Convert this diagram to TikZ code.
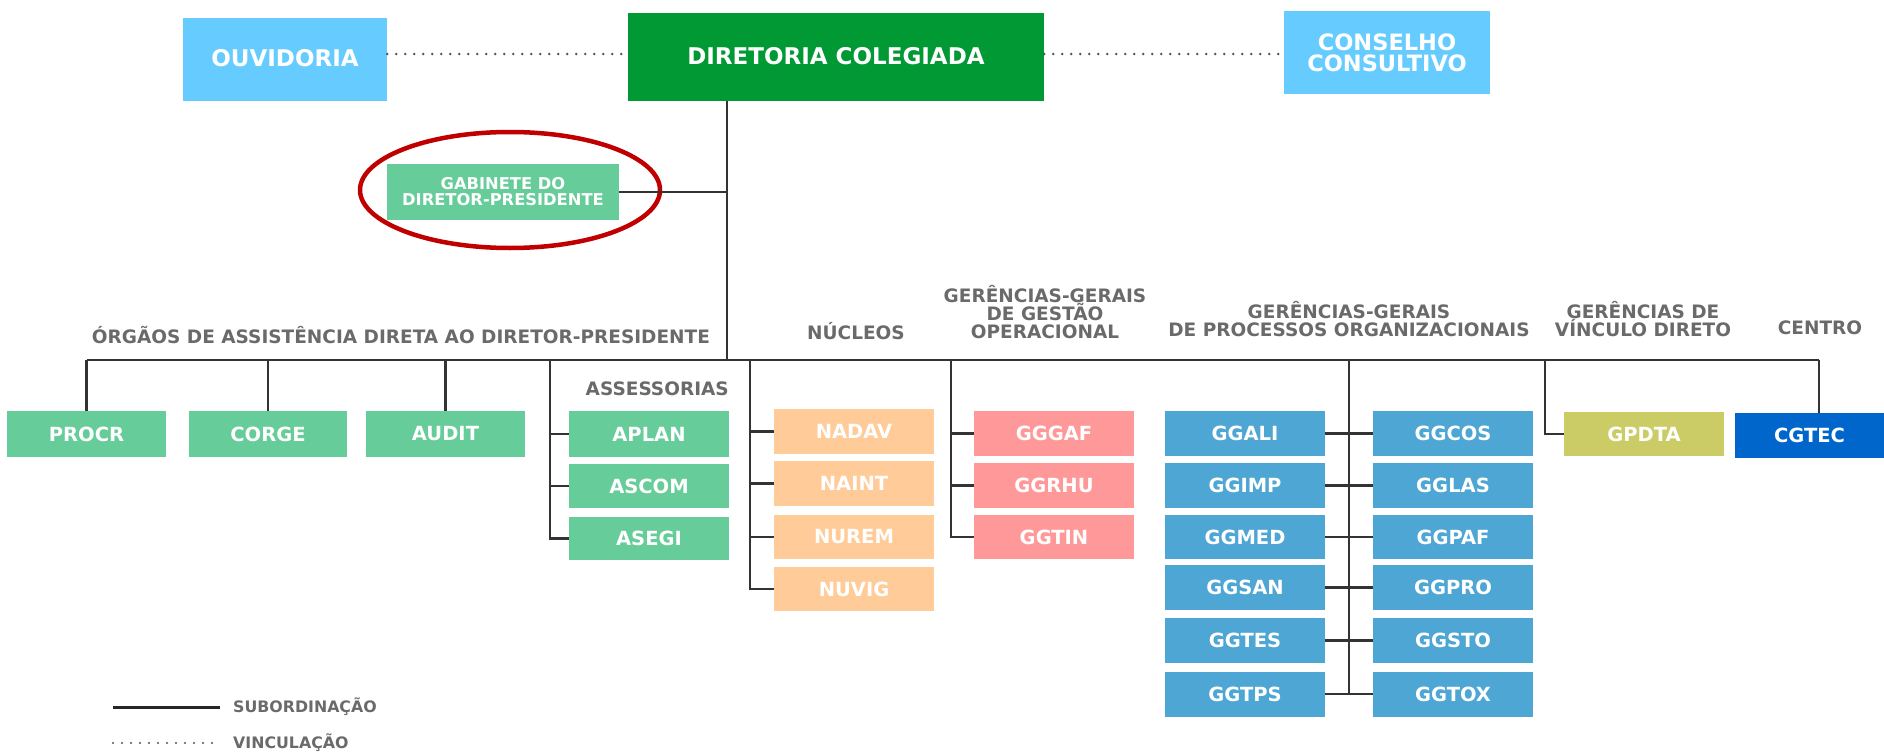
\documentclass[tikz,border=0pt]{standalone}
\usepackage{fontspec}
\setmainfont{DejaVu Sans}
\usetikzlibrary{shapes.geometric}
\definecolor{cblue}{HTML}{66CCFF}
\definecolor{cgreen}{HTML}{009933}
\definecolor{cmint}{HTML}{66CC99}
\definecolor{corange}{HTML}{FFCC99}
\definecolor{cpink}{HTML}{FF9999}
\definecolor{csteel}{HTML}{4DA6D3}
\definecolor{colive}{HTML}{CCCC66}
\definecolor{cdark}{HTML}{0066CC}
\definecolor{hdrgray}{HTML}{6A6A6A}
\definecolor{linec}{HTML}{333333}
\definecolor{dotc}{HTML}{555555}
\definecolor{ellc}{HTML}{C00000}
\newcommand{\fsz}[1]{\fontsize{#1}{#1}\selectfont}
\tikzset{
  orgbox/.style={fill=#1, text=white, inner sep=0pt, font=\bfseries\fsz{19.5}},
  sz/.style 2 args={minimum width=#1pt, minimum height=#2pt},
  hdr/.style={text=hdrgray, font=\bfseries\fontsize{18.5}{18}\selectfont, align=center, inner sep=0pt},
  link/.style={draw=linec, line width=2.4pt},
  vinc/.style={draw=dotc, line width=2.6pt, line cap=round, dash pattern=on 0pt off 9pt},
}
\begin{document}
\begin{tikzpicture}[x=1pt,y=-1pt]
\useasboundingbox (0,0) rectangle (1884,752);

% top level
\node[orgbox=cblue, sz={204}{83}, font=\bfseries\fsz{23}, text depth=4pt] (ouv) at (285,59.5) {OUVIDORIA};
\node[orgbox=cgreen, sz={416}{88}, font=\bfseries\fsz{23}, text depth=2pt] (dc) at (836,57) {DIRETORIA COLEGIADA};
\node[orgbox=cblue, sz={206}{83}, align=center, font=\bfseries\fontsize{22.5}{21}\selectfont] (cons) at (1387,52.5) {CONSELHO\\CONSULTIVO};
\node[orgbox=cmint, sz={232}{56}, align=center, font=\bfseries\fontsize{16.3}{16}\selectfont] (gab) at (503,192) {GABINETE DO\\DIRETOR-PRESIDENTE};
\node[draw=ellc, line width=4.5pt, ellipse, inner sep=0pt, minimum width=300pt, minimum height=116pt] (ring) at (510,190) {};

\coordinate (dl) at (0,54);
\draw[vinc] (ouv.east |- dl) -- (dc.west |- dl);
\draw[vinc] (dc.east |- dl) -- (cons.west |- dl);

% trunk and bus
\coordinate (trunk) at (727,360);
\coordinate (bus) at (0,360);
\coordinate (asx) at (550,360);
\coordinate (nux) at (750,360);
\coordinate (gex) at (951,360);
\coordinate (prx) at (1349,360);
\coordinate (vix) at (1545,360);
\coordinate (cen) at (1819,360);

% headers
\node[hdr] (h1) at (401,335) {ÓRGÃOS DE ASSISTÊNCIA DIRETA AO DIRETOR-PRESIDENTE};
\node[hdr] (h2) at (856,331) {NÚCLEOS};
\node[hdr] (h3) at (1045,312) {GERÊNCIAS-GERAIS\\DE GESTÃO\\OPERACIONAL};
\node[hdr] (h4) at (1349,319) {GERÊNCIAS-GERAIS\\DE PROCESSOS ORGANIZACIONAIS};
\node[hdr] (h5) at (1643,319) {GERÊNCIAS DE\\VÍNCULO DIRETO};
\node[hdr] (h6) at (1820,328) {CENTRO};
\node[hdr, anchor=east] (h7) at (729,389) {ASSESSORIAS};

% boxes
\node[orgbox=cmint, sz={159}{46}] (procr) at (86.5,434) {PROCR};
\node[orgbox=cmint, sz={158}{46}] (corge) at (268,434) {CORGE};
\node[orgbox=cmint, sz={159}{46}] (audit) at (445.5,434) {AUDIT};
\node[orgbox=cmint, sz={160}{46}] (aplan) at (649,434) {APLAN};
\node[orgbox=cmint, sz={160}{44}] (ascom) at (649,486) {ASCOM};
\node[orgbox=cmint, sz={160}{43}] (asegi) at (649,538.5) {ASEGI};

\node[orgbox=corange, sz={160}{45}] (nadav) at (854,431.5) {NADAV};
\node[orgbox=corange, sz={160}{45}] (naint) at (854,483.5) {NAINT};
\node[orgbox=corange, sz={160}{44}] (nurem) at (854,537) {NUREM};
\node[orgbox=corange, sz={160}{44}] (nuvig) at (854,589) {NUVIG};

\node[orgbox=cpink, sz={160}{45}] (gggaf) at (1054,433.5) {GGGAF};
\node[orgbox=cpink, sz={160}{45}] (ggrhu) at (1054,485.5) {GGRHU};
\node[orgbox=cpink, sz={160}{44}] (ggtin) at (1054,537) {GGTIN};

\node[orgbox=csteel, sz={160}{45}] (ggali) at (1245,433.5) {GGALI};
\node[orgbox=csteel, sz={160}{45}] (ggimp) at (1245,485.5) {GGIMP};
\node[orgbox=csteel, sz={160}{44}] (ggmed) at (1245,537) {GGMED};
\node[orgbox=csteel, sz={160}{45}] (ggsan) at (1245,587.5) {GGSAN};
\node[orgbox=csteel, sz={160}{45}] (ggtes) at (1245,640.5) {GGTES};
\node[orgbox=csteel, sz={160}{45}] (ggtps) at (1245,694) {GGTPS};
\node[orgbox=csteel, sz={160}{45}] (ggcos) at (1453,433.5) {GGCOS};
\node[orgbox=csteel, sz={160}{45}] (gglas) at (1453,485.5) {GGLAS};
\node[orgbox=csteel, sz={160}{44}] (ggpaf) at (1453,537) {GGPAF};
\node[orgbox=csteel, sz={160}{45}] (ggpro) at (1453,587.5) {GGPRO};
\node[orgbox=csteel, sz={160}{45}] (ggsto) at (1453,640.5) {GGSTO};
\node[orgbox=csteel, sz={160}{45}] (ggtox) at (1453,694) {GGTOX};

\node[orgbox=colive, sz={160}{44}] (gpdta) at (1644,434) {GPDTA};
\node[orgbox=cdark, sz={149}{45}] (cgtec) at (1809.5,435.5) {CGTEC};

% connectors
\draw[link] (dc.south -| trunk) -- (trunk);
\draw[link] (gab.east) -- (gab.east -| trunk);
\draw[link] (procr.north |- bus) -- (cen);
\draw[link] (procr.north) -- (procr.north |- bus);
\draw[link] (corge.north) -- (corge.north |- bus);
\draw[link] (audit.north) -- (audit.north |- bus);

\draw[link] (asx) |- (asegi.west);
\draw[link] (asx |- aplan.west) -- (aplan.west);
\draw[link] (asx |- ascom.west) -- (ascom.west);

\draw[link] (nux) |- (nuvig.west);
\draw[link] (nux |- nadav.west) -- (nadav.west);
\draw[link] (nux |- naint.west) -- (naint.west);
\draw[link] (nux |- nurem.west) -- (nurem.west);

\draw[link] (gex) |- (ggtin.west);
\draw[link] (gex |- gggaf.west) -- (gggaf.west);
\draw[link] (gex |- ggrhu.west) -- (ggrhu.west);

\draw[link] (prx) -- (prx |- ggtps.east);
\draw[link] (ggali.east) -- (ggcos.west);
\draw[link] (ggimp.east) -- (gglas.west);
\draw[link] (ggmed.east) -- (ggpaf.west);
\draw[link] (ggsan.east) -- (ggpro.west);
\draw[link] (ggtes.east) -- (ggsto.west);
\draw[link] (ggtps.east) -- (ggtox.west);

\draw[link] (vix) |- (gpdta.west);
\draw[link] (cen) -- (cen |- cgtec.north);

% legend
\coordinate (ls1) at (113,707);
\coordinate (ls2) at (220,707);
\coordinate (lv1) at (113,743);
\coordinate (lv2) at (217,743);
\draw[draw=black!85, line width=3pt] (ls1) -- (ls2);
\draw[vinc, line width=2.2pt] (lv1) -- (lv2);
\node[anchor=west, inner sep=0pt, text=hdrgray, font=\bfseries\fsz{15.8}] (lt1) at (233,707) {SUBORDINAÇÃO};
\node[anchor=west, inner sep=0pt, text=hdrgray, font=\bfseries\fsz{15.8}] (lt2) at (233,743) {VINCULAÇÃO};
\end{tikzpicture}
\end{document}
